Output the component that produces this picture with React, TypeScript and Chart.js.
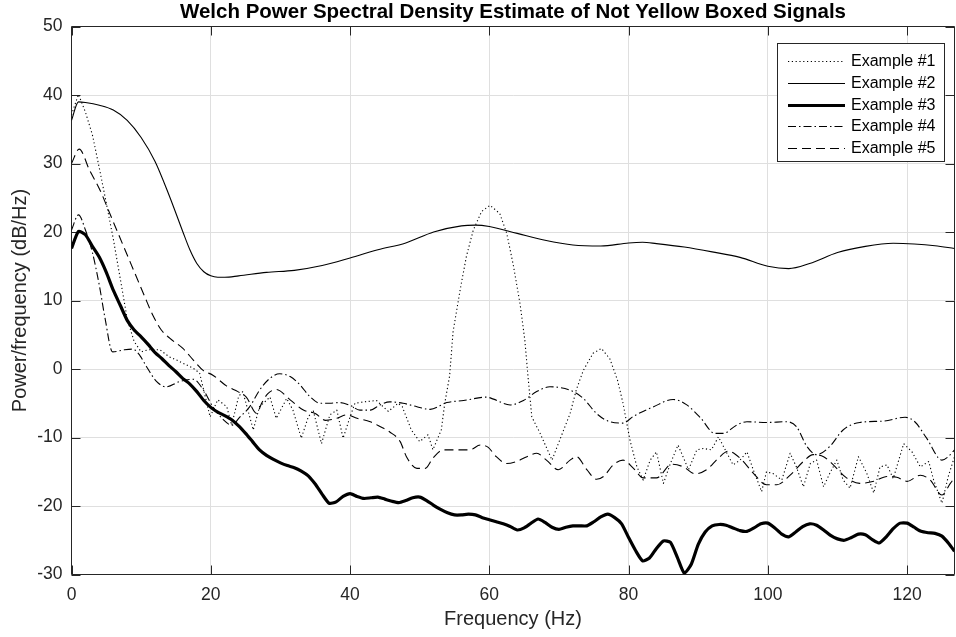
import React, { useEffect, useRef } from "react";
import { Chart, registerables } from "chart.js";

Chart.register(...registerables);

// ---------- text ----------
const TITLE = "Welch Power Spectral Density Estimate of Not Yellow Boxed Signals";
const X_LABEL = "Frequency (Hz)";
const Y_LABEL = "Power/frequency (dB/Hz)";
const SERIES_NAMES = ["Example #1", "Example #2", "Example #3", "Example #4", "Example #5"];

// ---------- axes ----------
const X_MIN = 0;
const X_MAX = 126.8;
const Y_MIN = -30;
const Y_MAX = 50;
const X_TICKS = [0, 20, 40, 60, 80, 100, 120];
const Y_TICKS = [-30, -20, -10, 0, 10, 20, 30, 40, 50];

// ---------- data ----------
const EX1_FREQ = [0, 1, 2, 3, 4, 5, 6, 7, 8, 9, 10, 11, 12.7, 14, 15.1, 16.5, 17.5, 18.4, 19.2, 19.9, 21, 22.3, 23, 24, 24.6, 25.6, 26.1, 27, 28.5, 29.4, 30.9, 31.8, 33, 34, 34.7, 35.9, 37.1, 38.1, 39, 40, 40.7, 42, 43.8, 45.5, 46.9, 47.5, 48.8, 50, 51.2, 51.9, 53.1, 53.6, 54.3, 54.8, 55.8, 56.7, 57.7, 58.9, 60.1, 61.5, 62.5, 63.4, 64.4, 65.1, 65.6, 66.1, 67.3, 69, 70.1, 71.6, 72.5, 73.5, 74.9, 76.1, 77.3, 78.4, 79.2, 80.2, 81.2, 82.1, 83.1, 84, 85, 86, 87.1, 88.6, 89.8, 90.7, 91.9, 92.9, 95, 96, 97, 97.9, 99.1, 99.8, 100.8, 102, 103.2, 104.1, 105.1, 106.1, 107, 108, 108.9, 109.9, 110.8, 111.8, 113, 114.2, 115.2, 116.1, 117.1, 118, 119.5, 120.7, 121.9, 123.1, 123.8, 125, 125.9, 126.8];
const EX1_VAL = [37.1, 40.1, 37.5, 34.2, 29.3, 24.2, 19.0, 13.2, 7.3, 4.0, 2.5, 2.8, 2.8, 1.8, 1.3, 0.6, 0.1, -0.6, -4.0, -7.0, -4.5, -5.5, -8.2, -4.0, -3.3, -7.0, -8.9, -5.5, -4.1, -7.2, -4.3, -6.0, -10.1, -7.0, -6.0, -10.9, -6.7, -6.0, -10.1, -7.0, -5.0, -4.8, -4.6, -6.2, -5.0, -5.5, -8.9, -10.6, -9.6, -11.8, -8.9, -5.0, -1.0, 5.5, 11.5, 16.4, 20.3, 23.0, 23.9, 22.7, 19.8, 15.4, 9.6, 4.2, -1.6, -7.0, -9.4, -13.3, -10.4, -6.5, -3.0, -0.2, 2.3, 3.0, 1.5, -1.6, -5.0, -10.4, -14.3, -16.2, -13.3, -12.1, -16.7, -13.8, -11.1, -14.7, -11.8, -11.6, -11.8, -9.9, -14.0, -13.3, -12.1, -14.7, -17.9, -15.0, -15.3, -16.2, -12.3, -14.3, -17.2, -13.8, -13.3, -17.2, -15.2, -13.3, -16.2, -17.4, -12.8, -15.2, -18.1, -14.3, -14.0, -16.0, -10.9, -12.1, -14.3, -13.5, -16.2, -19.6, -15.7, -12.8];

const EX2_FREQ = [0, 1, 2, 4, 6, 8, 10, 12, 14, 16, 17, 18, 19, 20, 21, 22, 24, 28, 32, 36, 40, 44, 48, 52, 56, 58, 60, 64, 68, 72, 76, 80, 82, 84, 88, 92, 96, 100, 103, 106, 110, 114, 118, 121, 124, 126.8];
const EX2_VAL = [36.3, 39.0, 38.9, 38.5, 37.8, 36.3, 33.8, 30.3, 25.4, 20.0, 17.4, 15.4, 14.2, 13.6, 13.4, 13.4, 13.6, 14.1, 14.4, 15.1, 16.2, 17.4, 18.4, 20.0, 20.9, 21.0, 20.8, 19.8, 18.8, 18.1, 17.95, 18.4, 18.5, 18.3, 17.8, 17.1, 16.3, 15.0, 14.65, 15.4, 17.0, 17.9, 18.35, 18.25, 18.0, 17.6];

const EX3_FREQ = [0, 1, 2, 3, 4, 5, 6, 7, 8, 9, 10, 11, 12, 13, 14, 15, 16, 17, 18, 19, 20, 21, 22, 23, 24, 25, 26, 27, 28, 29, 30, 31, 32, 33, 34, 35, 36, 37, 38, 39, 40, 41, 42, 43, 44, 45, 46, 47, 48, 49, 50, 51, 52, 53, 54, 55, 56, 57, 58, 59, 60, 61, 62, 63, 64, 65, 66, 67, 68, 69, 70, 71, 72, 73, 74, 75, 76, 77, 78, 79, 80, 81, 82, 83, 84, 85, 86, 87, 88, 89, 90, 91, 92, 93, 94, 95, 96, 97, 98, 99, 100, 101, 102, 103, 104, 105, 106, 107, 108, 109, 110, 111, 112, 113, 114, 115, 116, 117, 118, 119, 120, 121, 122, 123, 124, 125, 126, 126.8];
const EX3_VAL = [17.6, 20.1, 19.6, 17.9, 16.3, 14.1, 11.5, 9.3, 7.1, 5.7, 4.7, 3.6, 2.4, 1.5, 0.5, -0.4, -1.4, -2.2, -3.3, -4.6, -5.6, -6.3, -6.8, -7.4, -8.3, -9.4, -10.6, -11.8, -12.6, -13.2, -13.7, -14.1, -14.4, -14.9, -15.6, -16.8, -18.3, -19.6, -19.4, -18.6, -18.2, -18.6, -18.9, -18.8, -18.7, -19.0, -19.3, -19.5, -19.2, -18.8, -18.7, -19.2, -19.9, -20.5, -21.0, -21.3, -21.3, -21.2, -21.3, -21.7, -22.0, -22.3, -22.6, -23.0, -23.5, -23.2, -22.5, -21.9, -22.4, -23.1, -23.4, -23.1, -22.9, -22.9, -22.9, -22.3, -21.6, -21.2, -21.7, -22.6, -24.6, -26.5, -28.0, -27.6, -26.2, -25.1, -25.3, -27.5, -29.8, -28.5, -25.6, -23.8, -22.9, -22.7, -22.8, -23.2, -23.6, -23.7, -23.2, -22.6, -22.5, -23.2, -24.1, -24.5, -23.8, -23.0, -22.6, -22.8, -23.5, -24.3, -24.8, -25.0, -24.6, -24.1, -24.2, -24.9, -25.4, -24.5, -23.3, -22.5, -22.5, -23.1, -23.7, -23.9, -24.0, -24.4, -25.5, -26.6];

const EX4_FREQ = [0, 1, 2, 3, 4, 4.8, 5.9, 7.6, 8.8, 9.8, 10.8, 12.2, 13.6, 15.5, 17.5, 18.9, 20.3, 21.8, 23, 24.2, 25.6, 27, 28.5, 29.9, 31.4, 32.8, 34.2, 35.7, 37.1, 38.5, 40, 41.4, 42.9, 44.3, 45.7, 47.6, 49.6, 51.5, 53.9, 56.3, 59.6, 60.6, 63, 64.9, 66.8, 68.7, 71.6, 73.5, 75.4, 77.3, 79.2, 80.7, 83.6, 86.4, 88.3, 90.3, 92.4, 93.6, 95.5, 97, 99.8, 102.7, 104.1, 105.6, 107, 108.9, 110.8, 113.2, 116.6, 119.7, 121.1, 122.8, 125, 125.9, 126.8];
const EX4_VAL = [20.3, 22.5, 20.3, 17.0, 12.2, 7.5, 2.5, 2.8, 2.9, 2.0, 0.3, -1.8, -2.6, -1.85, -1.5, -3.0, -5.5, -7.4, -8.2, -7.0, -5.5, -3.1, -1.35, -0.7, -1.1, -2.3, -4.0, -5.0, -5.0, -4.9, -5.3, -6.0, -6.0, -5.25, -4.8, -5.0, -5.5, -5.9, -4.9, -4.6, -4.1, -4.4, -5.25, -4.6, -3.3, -2.6, -3.1, -4.3, -6.5, -7.7, -7.9, -6.9, -5.5, -4.45, -5.2, -7.1, -9.4, -9.4, -8.2, -7.7, -7.8, -7.7, -8.4, -11.3, -12.5, -11.3, -8.9, -7.8, -7.6, -7.05, -7.7, -10.1, -13.3, -12.8, -11.8];

const EX5_FREQ = [0, 1.1, 2.6, 4.1, 5.5, 6.9, 8.1, 9.3, 10.5, 11.7, 12.9, 14.1, 16, 17.5, 18.9, 20.3, 22.3, 23.9, 25.1, 26.6, 27.3, 28.2, 29.4, 31.4, 33.3, 35, 36.5, 38.1, 39.5, 41, 42.9, 44.3, 45.7, 47.2, 48.1, 49.6, 50.8, 51.9, 53.4, 55.3, 57.2, 58.7, 59.8, 61, 62.5, 63.9, 65.4, 66.8, 68.2, 69.9, 71.6, 72.5, 74, 75.4, 76.4, 77.8, 79.2, 80.7, 82.1, 84, 86.2, 87.9, 89.5, 91.2, 92.9, 94.3, 96, 97.9, 99.8, 101.3, 103.2, 105.1, 106.5, 108, 109.4, 111.3, 113.2, 115.2, 117.1, 118.5, 120, 121.9, 123.3, 125, 126.2, 126.8];
const EX5_VAL = [30.0, 32.1, 29.0, 26.1, 22.7, 19.3, 16.4, 13.5, 10.6, 7.8, 5.7, 4.5, 3.0, 1.3, -0.2, -0.9, -2.5, -3.3, -4.1, -6.5, -5.0, -3.6, -3.0, -4.5, -6.0, -6.5, -7.5, -7.2, -6.7, -7.2, -7.7, -8.4, -9.2, -10.6, -12.8, -14.5, -14.5, -13.0, -11.8, -11.8, -11.8, -11.1, -11.4, -12.8, -13.8, -13.5, -12.8, -12.3, -13.3, -14.7, -13.3, -12.8, -14.7, -16.1, -15.7, -14.0, -13.3, -14.5, -15.9, -15.9, -13.9, -14.3, -15.3, -14.7, -13.0, -12.0, -13.0, -15.2, -16.9, -16.9, -15.5, -13.5, -12.5, -12.8, -14.0, -15.9, -16.7, -16.4, -15.7, -15.8, -16.4, -15.5, -16.2, -18.4, -16.7, -15.9];

// ---------- styles ----------
const FONT = '"Liberation Sans", Arial, Helvetica, sans-serif';
const AXIS_COLOR = "#262626";
const GRID_COLOR = "rgb(223,223,223)";
const TICK_LEN = 9;

const toPoints = (fx: number[], vy: number[]) => fx.map((x, i) => ({ x, y: vy[i] }));

const framePlugin = {
  id: "mlFrame",
  beforeDatasetsDraw(chart: any) {
    const { ctx, chartArea: a, scales } = chart;
    ctx.save();
    ctx.strokeStyle = AXIS_COLOR;
    ctx.lineWidth = 1;
    ctx.setLineDash([]);
    ctx.beginPath();
    ctx.rect(a.left, a.top, a.right - a.left, a.bottom - a.top);
    ctx.stroke();
    ctx.beginPath();
    scales.x.ticks.forEach((t: any) => {
      const px = Math.round(scales.x.getPixelForValue(t.value)) + 0.5;
      ctx.moveTo(px, a.bottom);
      ctx.lineTo(px, a.bottom - TICK_LEN);
      ctx.moveTo(px, a.top);
      ctx.lineTo(px, a.top + TICK_LEN);
    });
    scales.y.ticks.forEach((t: any) => {
      const py = Math.round(scales.y.getPixelForValue(t.value)) + 0.5;
      ctx.moveTo(a.left, py);
      ctx.lineTo(a.left + TICK_LEN, py);
      ctx.moveTo(a.right, py);
      ctx.lineTo(a.right - TICK_LEN, py);
    });
    ctx.stroke();
    ctx.restore();
  },
  afterDraw(chart: any) {
    const { ctx, chartArea: a } = chart;
    // title
    ctx.save();
    ctx.fillStyle = "#000";
    ctx.font = `bold 20.5px ${FONT}`;
    ctx.textAlign = "center";
    ctx.textBaseline = "alphabetic";
    ctx.fillText(TITLE, (a.left + a.right) / 2, 17.5);
    // legend
    const bx = 777.5, by = 43.5, bw = 167, bh = 118;
    ctx.fillStyle = "#fff";
    ctx.fillRect(bx, by, bw, bh);
    ctx.strokeStyle = AXIS_COLOR;
    ctx.lineWidth = 1;
    ctx.setLineDash([]);
    ctx.strokeRect(bx, by, bw, bh);
    chart.data.datasets.forEach((ds: any, i: number) => {
      const cy = Math.round(61 + i * 21.75) + 0.5;
      ctx.beginPath();
      ctx.strokeStyle = ds.borderColor;
      ctx.lineWidth = ds.borderWidth;
      ctx.setLineDash(ds.borderDash || []);
      ctx.moveTo(788, cy);
      ctx.lineTo(845, cy);
      ctx.stroke();
      ctx.setLineDash([]);
      ctx.fillStyle = "#000";
      ctx.font = `16px ${FONT}`;
      ctx.textAlign = "left";
      ctx.textBaseline = "middle";
      ctx.fillText(ds.label, 851, cy);
    });
    ctx.restore();
  },
};

export default function App() {
  const canvasRef = useRef<HTMLCanvasElement | null>(null);

  useEffect(() => {
    document.body.style.margin = "0";
    const canvas = canvasRef.current;
    if (!canvas) return;
    const chart = new Chart(canvas, {
      type: "line",
      data: {
        datasets: [
          {
            label: SERIES_NAMES[0],
            data: toPoints(EX1_FREQ, EX1_VAL),
            borderColor: "#000",
            borderWidth: 1.1,
            borderDash: [1.2, 2.6],
            tension: 0,
          },
          {
            label: SERIES_NAMES[1],
            data: toPoints(EX2_FREQ, EX2_VAL),
            borderColor: "#000",
            borderWidth: 1.1,
            cubicInterpolationMode: "monotone",
          },
          {
            label: SERIES_NAMES[2],
            data: toPoints(EX3_FREQ, EX3_VAL),
            borderColor: "#000",
            borderWidth: 3.2,
            tension: 0.2,
          },
          {
            label: SERIES_NAMES[3],
            data: toPoints(EX4_FREQ, EX4_VAL),
            borderColor: "#000",
            borderWidth: 1.1,
            borderDash: [8, 3, 1.5, 3],
            cubicInterpolationMode: "monotone",
          },
          {
            label: SERIES_NAMES[4],
            data: toPoints(EX5_FREQ, EX5_VAL),
            borderColor: "#000",
            borderWidth: 1.1,
            borderDash: [9, 5],
            cubicInterpolationMode: "monotone",
          },
        ] as any,
      },
      options: {
        animation: false,
        responsive: false,
        maintainAspectRatio: false,
        events: [],
        layout: { padding: { top: 26.5, right: 1.5, left: 0, bottom: 0 } },
        elements: { point: { radius: 0 }, line: { borderJoinStyle: "round", fill: false } },
        datasets: { line: { clip: 0 } } as any,
        plugins: {
          legend: { display: false },
          title: { display: false },
          tooltip: { enabled: false },
        },
        scales: {
          x: {
            type: "linear",
            min: X_MIN,
            max: X_MAX,
            afterBuildTicks: (s: any) => {
              s.ticks = X_TICKS.map((v) => ({ value: v }));
            },
            afterFit: (s: any) => {
              s.height = 62.5;
            },
            grid: { color: GRID_COLOR, lineWidth: 1, drawTicks: false },
            border: { display: false },
            ticks: {
              padding: 10,
              color: AXIS_COLOR,
              font: { family: FONT, size: 17.5 },
              maxRotation: 0,
              autoSkip: false,
            },
            title: {
              display: true,
              text: X_LABEL,
              color: AXIS_COLOR,
              font: { family: FONT, size: 20 },
              padding: { top: 0, bottom: 5.5 },
            },
          },
          y: {
            type: "linear",
            min: Y_MIN,
            max: Y_MAX,
            afterBuildTicks: (s: any) => {
              s.ticks = Y_TICKS.map((v) => ({ value: v }));
            },
            afterFit: (s: any) => {
              s.width = 71.5;
            },
            grid: { color: GRID_COLOR, lineWidth: 1, drawTicks: false },
            border: { display: false },
            ticks: {
              padding: 9,
              color: AXIS_COLOR,
              font: { family: FONT, size: 17.5 },
              autoSkip: false,
            },
            title: {
              display: true,
              text: Y_LABEL,
              color: AXIS_COLOR,
              font: { family: FONT, size: 20 },
              padding: { top: 8, bottom: 0 },
            },
          },
        },
      },
      plugins: [framePlugin],
    });
    return () => chart.destroy();
  }, []);

  return (
    <div style={{ width: 956, height: 637, position: "relative" }}>
      <canvas ref={canvasRef} width={956} height={637} style={{ display: "block" }} />
    </div>
  );
}
